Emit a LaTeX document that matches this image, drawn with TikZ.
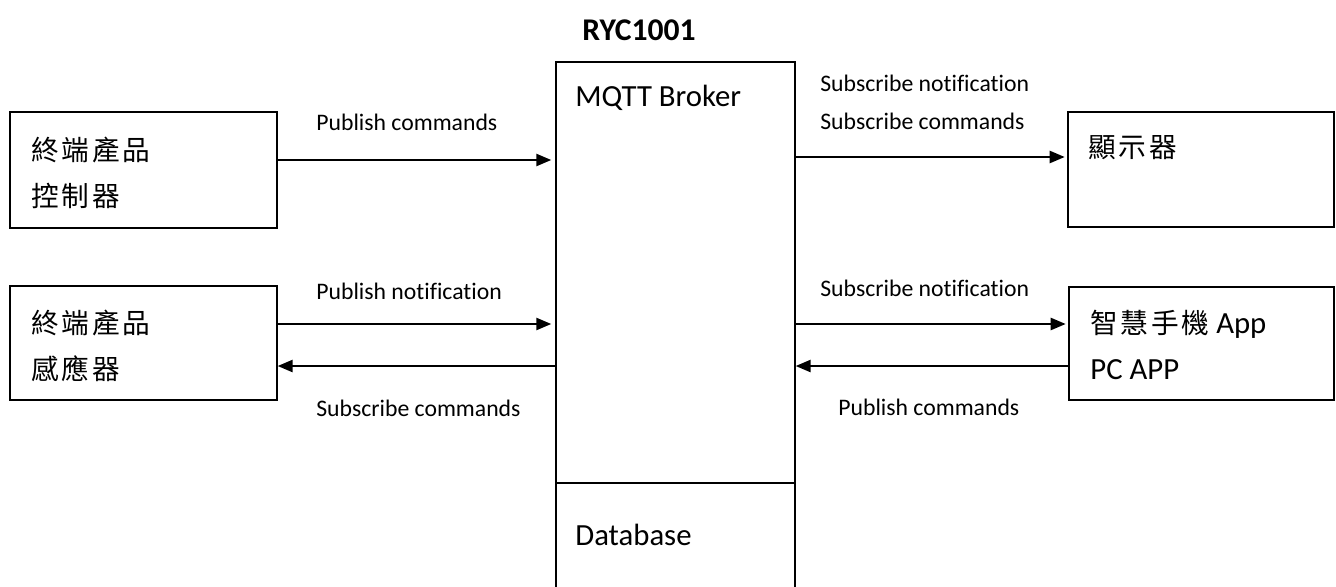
\documentclass[tikz,border=0pt]{standalone}
\usepackage{fontspec}
\setmainfont{Carlito}[Ligatures=NoCommon]
\newfontfamily\cjk[Scale=0.9,LetterSpace=10]{Noto Sans CJK TC}
\usetikzlibrary{arrows.meta,positioning}

\begin{document}
\begin{tikzpicture}[x=0.02cm, y=-0.02cm,
					box/.style={
							rectangle,
							draw=black,
							line width=0.9pt,
							inner sep=0pt
						},
					boxtext/.style={
							anchor=west,
							align=left,
							inner sep=0pt,
							font=\fontsize{17.5}{26.5}\selectfont
						},
					msg/.style={
							anchor=west,
							inner sep=0pt,
							font=\fontsize{13.5}{16}\selectfont
						},
					link/.style={->, line width=0.9pt},
					>={Triangle[length=8.5pt,width=7pt]}
				]
				\clip (0,0) rectangle (1336,586);

				% broker column
				\node[font=\bfseries\fontsize{18}{20}\selectfont] (title) at (639,30) {RYC1001};
				\node[box, minimum width=4.78cm, minimum height=8.42cm] (broker) at (675.5,272.5) {};
				\node[box, minimum width=4.78cm, minimum height=3.14cm] (db) at (675.5,561.5) {};
				\node[boxtext] (brokertext) at (575,98) {MQTT Broker};
				\node[boxtext] (dbtext) at (575,535) {Database};

				% devices
				\node[box, minimum width=5.34cm, minimum height=2.32cm] (ctrl) at (143.5,170) {};
				\node[box, minimum width=5.34cm, minimum height=2.28cm] (sensor) at (143.5,343) {};
				\node[box, minimum width=5.32cm, minimum height=2.3cm] (display) at (1201,169.5) {};
				\node[box, minimum width=5.3cm, minimum height=2.26cm] (phone) at (1201.5,343.5) {};

				\node[boxtext] (ctrltext) at (31,173) {{\cjk 終端產品}\\{\cjk 控制器}};
				\node[boxtext] (sensortext) at (31,346) {{\cjk 終端產品}\\{\cjk 感應器}};
				\node[boxtext] (displaytext) at (1088,148) {{\cjk 顯示器}};
				\node[boxtext] (phonetext) at (1090,345) {{\cjk 智慧手機} App\\PC APP};

				% message rows
				\coordinate (rowA) at (0,160);
				\coordinate (rowB) at (0,324);
				\coordinate (rowC) at (0,366);
				\coordinate (rowD) at (0,157);

				\draw[link, shorten >=2.3pt] (ctrl.east |- rowA) -- (broker.west |- rowA);
				\draw[link, shorten >=2.3pt] (sensor.east |- rowB) -- (broker.west |- rowB);
				\draw[link] (broker.west |- rowC) -- (sensor.east |- rowC);
				\draw[link, shorten >=1.5pt] (broker.east |- rowD) -- (display.west |- rowD);
				\draw[link, shorten >=1.5pt] (broker.east |- rowB) -- (phone.west |- rowB);
				\draw[link] (phone.west |- rowC) -- (broker.east |- rowC);

				\node[msg] (pubcmd) at (316,122) {Publish commands};
				\node[msg] (pubnote) at (316,291) {Publish notification};
				\node[msg] (subcmd) at (316,408) {Subscribe commands};
				\node[msg] (dispnote) at (820,83) {Subscribe notification};
				\node[msg] (dispcmd) at (820,121) {Subscribe commands};
				\node[msg] (appnote) at (820,288) {Subscribe notification};
				\node[msg] (appcmd) at (838,407) {Publish commands};
\end{tikzpicture}
\end{document}
